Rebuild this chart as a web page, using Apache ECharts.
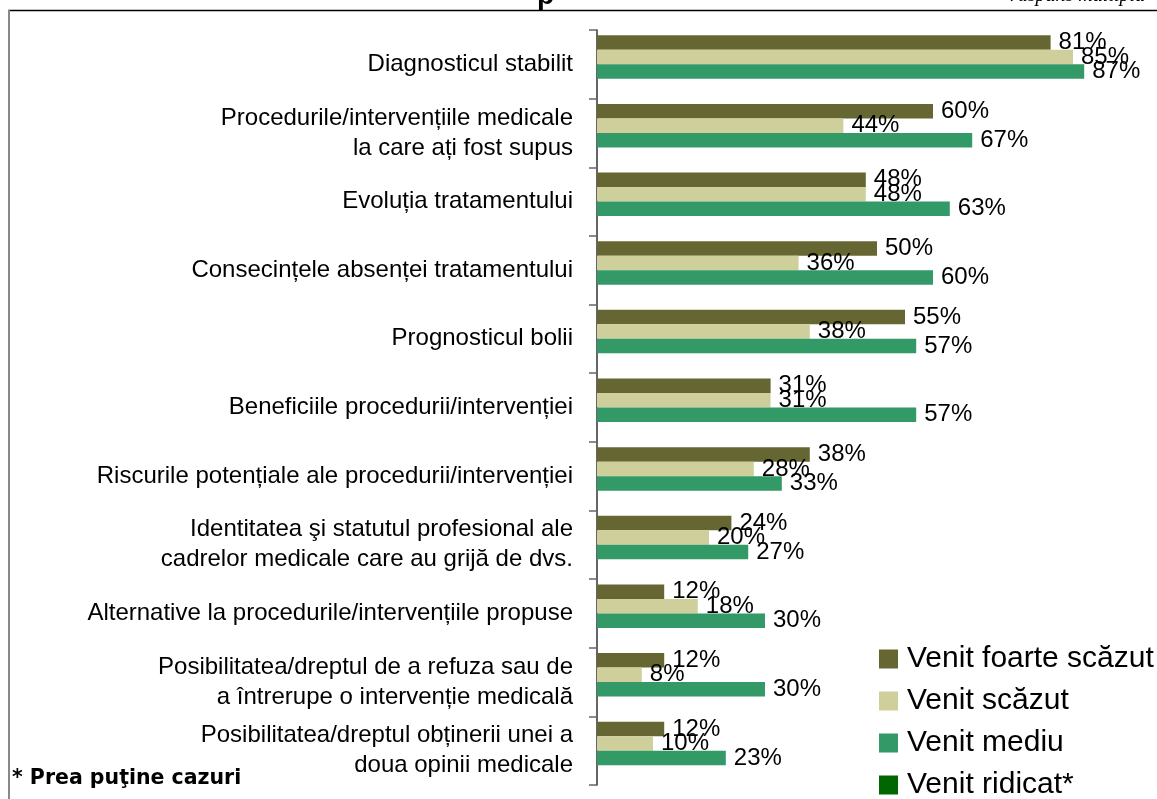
<!DOCTYPE html>
<html>
<head>
<meta charset="utf-8">
<script src="https://cdn.jsdelivr.net/npm/echarts@6/dist/echarts.min.js"></script>
<style>
  html, body { margin: 0; padding: 0; background: #fff; }
  #main { width: 1157px; height: 799px; }
</style>
</head>
<body>
<div id="main"></div>
<script>
// categorii, de sus in jos
var categorii = [
  'Diagnosticul stabilit',
  'Procedurile/intervențiile medicale\nla care ați fost supus',
  'Evoluția tratamentului',
  'Consecințele absenței tratamentului',
  'Prognosticul bolii',
  'Beneficiile procedurii/intervenției',
  'Riscurile potențiale ale procedurii/intervenției',
  'Identitatea şi statutul profesional ale\ncadrelor medicale care au grijă de dvs.',
  'Alternative la procedurile/intervențiile propuse',
  'Posibilitatea/dreptul de a refuza sau de\na întrerupe o intervenție medicală',
  'Posibilitatea/dreptul obținerii unei a\ndoua opinii medicale'
];
var foarteScazut = [81, 60, 48, 50, 55, 31, 38, 24, 12, 12, 12];
var scazut       = [85, 44, 48, 36, 38, 31, 28, 20, 18, 8, 10];
var mediu        = [87, 67, 63, 60, 57, 57, 33, 27, 30, 30, 23];
var ridicat      = ['-', '-', '-', '-', '-', '-', '-', '-', '-', '-', '-']; // prea putine cazuri

var numeSerii = ['Venit foarte scăzut', 'Venit scăzut', 'Venit mediu', 'Venit ridicat*'];
var culori = ['#666633', '#CFCF9C', '#339966', '#006600'];

var chart = echarts.init(document.getElementById('main'));

function serie(nume, date, culoare) {
  return {
    name: nume,
    type: 'bar',
    data: date,
    barWidth: 14.5,
    barGap: '0%',
    itemStyle: { color: culoare },
    label: {
      show: true,
      position: 'right',
      distance: 8,
      formatter: '{c}%',
      fontFamily: 'Liberation Sans, Arial, sans-serif',
      fontSize: 24,
      color: '#000'
    }
  };
}

var option = {
  backgroundColor: '#fff',
  animation: false,
  color: culori,
  grid: { left: 597, top: 30, width: 562, height: 755, containLabel: false },
  xAxis: { type: 'value', min: 0, max: 100, show: false },
  yAxis: {
    type: 'category',
    data: categorii,
    inverse: true,
    axisLine: { show: true, lineStyle: { color: '#333', width: 1.5 } },
    axisTick: { show: true, length: 8, lineStyle: { color: '#666', width: 1.5 } },
    axisLabel: {
      margin: 24,
      fontFamily: 'Liberation Sans, Arial, sans-serif',
      fontSize: 24,
      lineHeight: 30,
      color: '#000',
      align: 'right',
      padding: [5, 0, 0, 0]
    },
    splitLine: { show: false }
  },
  legend: {
    orient: 'vertical',
    left: 879,
    top: 644,
    width: 280,
    height: 200,
    padding: 0,
    itemWidth: 19,
    itemHeight: 19,
    itemGap: 12,
    icon: 'rect',
    data: numeSerii,
    textStyle: {
      fontFamily: 'Liberation Sans, Arial, sans-serif',
      fontSize: 30,
      lineHeight: 28,
      color: '#000',
      padding: [0, 0, 0, 4]
    }
  },
  graphic: [
    { type: 'line', shape: { x1: 8, y1: 10.5, x2: 1157, y2: 10.5 }, style: { stroke: '#000', lineWidth: 1.5 } },
    { type: 'line', shape: { x1: 9, y1: 10, x2: 9, y2: 799 }, style: { stroke: '#888', lineWidth: 2 } },
    {
      type: 'text', right: 12, top: -14,
      style: { text: 'răspuns multiplu', font: 'italic 20px "Liberation Serif", serif', fill: '#000' }
    },
    {
      type: 'text', left: 537, top: -18,
      style: { text: 'p', font: 'bold 28px "Liberation Sans", Arial, sans-serif', fill: '#000' }
    },
    {
      type: 'text', left: 12, top: 768,
      style: { text: '* Prea puţine cazuri', font: 'bold 20.5px "DejaVu Sans", sans-serif', fill: '#000' }
    }
  ],
  series: [
    serie(numeSerii[0], foarteScazut, culori[0]),
    serie(numeSerii[1], scazut, culori[1]),
    serie(numeSerii[2], mediu, culori[2]),
    serie(numeSerii[3], ridicat, culori[3])
  ]
};

chart.setOption(option);
</script>
</body>
</html>
